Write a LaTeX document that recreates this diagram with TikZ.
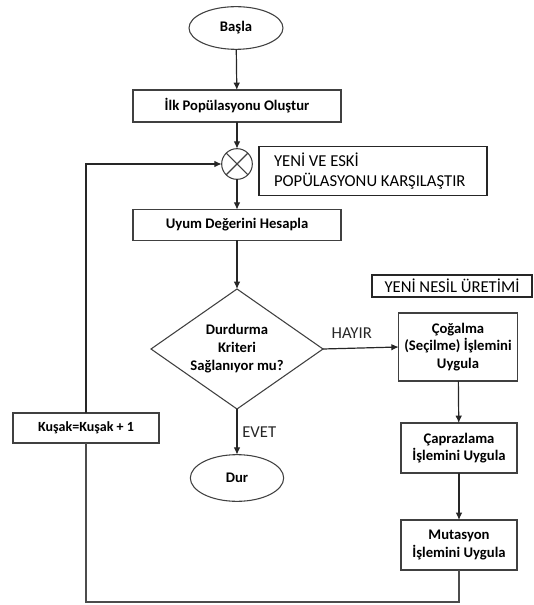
\documentclass[tikz,border=0pt]{standalone}
\usepackage{fontspec}
\setmainfont{Carlito}
\usetikzlibrary{arrows.meta,shapes.geometric,shapes.misc}
\begin{document}
\begin{tikzpicture}[x=0.75pt,y=-0.75pt,
  line width=0.9pt,
  every node/.style={inner sep=0pt, outer sep=0pt},
  flow/.style={draw=black!85, -{Latex[length=5.5pt,width=5pt]}},
  conn/.style={draw=black!70},
  procbox/.style={draw=black!75, line width=0.8pt, fill=white, rectangle, font=\bfseries\fontsize{11}{13}\selectfont, align=center},
  termnode/.style={draw=black!75, line width=0.8pt, fill=white, ellipse, font=\bfseries\fontsize{11}{13}\selectfont},
  decnode/.style={draw=black!75, line width=0.8pt, fill=white, diamond},
  notebox/.style={draw=black!85, line width=0.8pt, fill=white, rectangle, font=\fontsize{12.5}{15}\selectfont},
  lbl/.style={font=\fontsize{12.5}{15}\selectfont, text=black!85}]
\useasboundingbox (0,0) rectangle (533,605);

% main column
\node[termnode, minimum width=70.5pt, minimum height=32pt] (start) at (236,28) {Başla};
\node[procbox, minimum width=156pt, minimum height=24pt] (init) at (237,106) {İlk Popülasyonu Oluştur};
\node[draw=black!75, line width=0.8pt, circle, minimum size=23pt, fill=white] (cmp) at (237,164) {};
\draw[black!75, line width=0.8pt] (cmp.north west) -- (cmp.south east) (cmp.north east) -- (cmp.south west);
\node[notebox, minimum width=171pt, minimum height=37pt] (cmpnote) at (373,171) {};
\node[font=\fontsize{12.5}{15}\selectfont, align=left, anchor=west] (cmptext) at (274,171) {YENİ VE ESKİ\\POPÜLASYONU KARŞILAŞTIR};
\node[procbox, minimum width=156pt, minimum height=23pt] (fit) at (237,225) {Uyum Değerini Hesapla};
\node[decnode, minimum width=129pt, minimum height=90pt, inner sep=0pt] (stop) at (237,349) {};
\node[font=\bfseries\fontsize{11}{13.5}\selectfont, align=center] (stoptext) at (237,349) {Durdurma\\Kriteri\\Sağlanıyor mu?};
\node[termnode, minimum width=70pt, minimum height=35pt] (end) at (237,478) {Dur};

% generation branch
\node[notebox, minimum width=120pt, minimum height=16.5pt] (gennote) at (452,286) {YENİ NESİL ÜRETİMİ};
\node[procbox, minimum width=89pt, minimum height=51pt] (sel) at (458,347) {Çoğalma\\(Seçilme) İşlemini\\Uygula};
\node[procbox, minimum width=87pt, minimum height=37.5pt] (cross) at (459,448) {Çaprazlama\\İşlemini Uygula};
\node[procbox, minimum width=87pt, minimum height=37.5pt] (mut) at (459,545) {Mutasyon\\İşlemini Uygula};

% loop back
\coordinate (br) at (459,602);
\coordinate (bl) at (86,602);
\coordinate (tl) at (86,164);
\node[procbox, font=\bfseries\fontsize{10.5}{13}\selectfont, minimum width=109.5pt, minimum height=22.5pt] (gen) at (86,428) {Kuşak=Kuşak + 1};

% connectors
\draw[flow] (start) -- (init);
\draw[flow] (init) -- (cmp);
\draw[flow] (cmp) -- (fit);
\draw[flow] (fit) -- (stop);
\draw[flow] (stop.east) -- node[lbl, pos=0.38, above=7pt] (no) {HAYIR} (sel.west);
\draw[flow] (stop.south) -- node[lbl, right=4pt] (yes) {EVET} (end);
\draw[flow] (sel) -- (cross);
\draw[flow] (cross) -- (mut);
\draw[conn] (mut.south) -- (br) -- (bl) -- (gen.south);
\draw[flow] (gen.north) -- (tl) -- (cmp.west);
\end{tikzpicture}
\end{document}
